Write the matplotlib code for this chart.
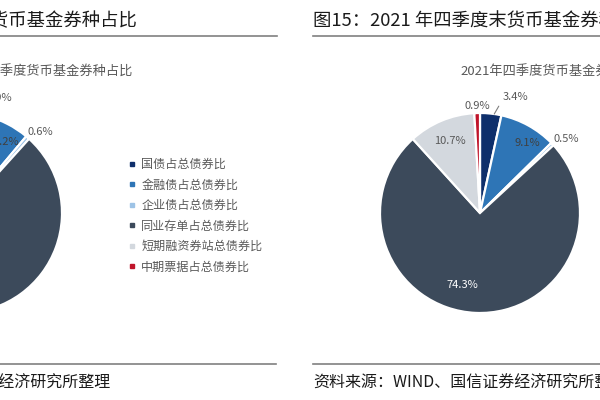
import numpy as np
import matplotlib
matplotlib.use("Agg")
import matplotlib.pyplot as plt
from matplotlib.lines import Line2D

plt.rcParams['font.family'] = ['Noto Sans CJK SC', 'DejaVu Sans']

categories = ["国债占总债券比", "金融债占总债券比", "企业债占总债券比",
              "同业存单占总债券比", "短期融资券站总债券比", "中期票据占总债券比"]
q3_values = [3.9, 7.2, 0.6, 75.5, 11.8, 1.0]
q4_values = [3.4, 9.1, 0.5, 74.3, 10.7, 0.9]
colors = ["#0e2f6b", "#2e75b6", "#9dc3e6", "#3c4a5b", "#d3d8de", "#c0142a"]

# label placement per slice: radius (fraction of pie radius), angle nudge (deg)
label_r = [1.21, 0.84, 1.13, 0.74, 0.78, 1.07]
label_nudge = [-11, -5, -3, -11, 0, 0]
label_color = ["#595959", "#404040", "#595959", "white", "#595959", "#595959"]

W, H = 600, 400
fig = plt.figure(figsize=(6, 4), dpi=100)


def px_axes(cx, cy, r):
    return fig.add_axes([(cx - r) / W, 1 - (cy + r) / H, 2 * r / W, 2 * r / H])


def draw_pie(ax, values):
    wedges, _ = ax.pie(values, colors=colors, startangle=90, counterclock=False,
                       wedgeprops=dict(edgecolor="white", linewidth=1.6))
    ax.set_xlim(-1, 1)
    ax.set_ylim(-1, 1)
    for i, w in enumerate(wedges):
        mid = (w.theta1 + w.theta2) / 2 + label_nudge[i]
        x = label_r[i] * np.cos(np.radians(mid))
        y = label_r[i] * np.sin(np.radians(mid))
        txt = f"{values[i]:.1f}%"
        if i == 0:
            emid = np.radians((w.theta1 + w.theta2) / 2 - 2)
            ax.annotate(txt, xy=(1.0 * np.cos(emid), 1.0 * np.sin(emid)),
                        xytext=(x, y), ha="center", va="center", fontsize=8,
                        color=label_color[i], annotation_clip=False,
                        arrowprops=dict(arrowstyle="-", color="#7f7f7f", lw=0.8,
                                        shrinkA=2, shrinkB=0,
                                        connectionstyle="angle,angleA=180,angleB=60,rad=0"))
        else:
            ax.text(x, y, txt, ha="center", va="center", fontsize=8,
                    color=label_color[i], clip_on=False)
    return wedges


ax_left = px_axes(-38, 213, 100)
draw_pie(ax_left, q3_values)
ax_right = px_axes(480, 213, 100)
draw_pie(ax_right, q4_values)

# chart titles
fig.text(133 / W, 1 - 72 / H, "2021年三季度货币基金券种占比", ha="right", va="center",
         fontsize=9.5, color="#595959")
fig.text(460 / W, 1 - 72 / H, "2021年四季度货币基金券种占比", ha="left", va="center",
         fontsize=9.5, color="#595959")

# legend
handles = [Line2D([], [], marker="s", linestyle="none", markersize=3.5,
                  markerfacecolor=c, markeredgecolor=c) for c in colors]
fig.legend(handles, categories, loc="upper left",
           bbox_to_anchor=(122 / W, 1 - 152 / H), frameon=False, fontsize=8.7,
           labelcolor="#595959", handlelength=0.6, handletextpad=0.5,
           labelspacing=0.62, borderpad=0)

# report headers
fig.text(137 / W, 1 - 21 / H, "图14：2021 年三季度末货币基金券种占比", ha="right",
         va="center", fontsize=13.2, color="#1a1a1a")
fig.text(313 / W, 1 - 21 / H, "图15：2021 年四季度末货币基金券种占比", ha="left",
         va="center", fontsize=13.2, color="#1a1a1a")
fig.add_artist(Line2D([0, 277 / W], [1 - 36 / H] * 2, color="#808080", lw=1.2))
fig.add_artist(Line2D([313 / W, 1], [1 - 36 / H] * 2, color="#808080", lw=1.2))

# footers
fig.add_artist(Line2D([0, 276 / W], [1 - 364 / H] * 2, color="#808080", lw=1.2))
fig.add_artist(Line2D([313 / W, 1], [1 - 364 / H] * 2, color="#808080", lw=1.2))
fig.text(110 / W, 1 - 383 / H, "资料来源：WIND、国信证券经济研究所整理", ha="right",
         va="center", fontsize=11.5, color="#1a1a1a")
fig.text(313 / W, 1 - 383 / H, "资料来源：WIND、国信证券经济研究所整理", ha="left",
         va="center", fontsize=11.5, color="#1a1a1a")

fig.savefig("out.png", dpi=100)
